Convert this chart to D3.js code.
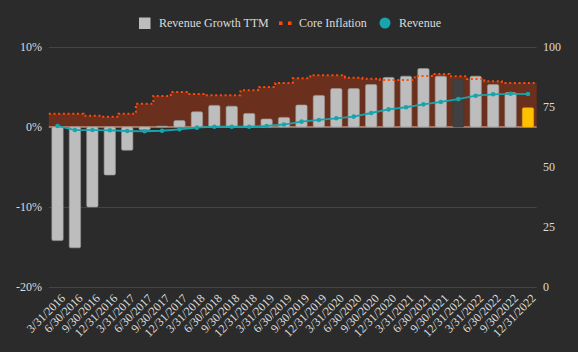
<!DOCTYPE html>
<html>
<head>
<meta charset="utf-8">
<script src="https://cdn.jsdelivr.net/npm/d3@7"></script>
<style>
  html, body { margin: 0; padding: 0; background: #2b2b2b; }
  svg text { font-family: "Liberation Serif", "DejaVu Serif", serif; fill: #dcdcdc; }
</style>
</head>
<body>
<script>
// quarters (x axis)
var quarters = ['3/31/2016', '6/30/2016', '9/30/2016', '12/31/2016',
    '3/31/2017', '6/30/2017', '9/30/2017', '12/31/2017',
    '3/31/2018', '6/30/2018', '9/30/2018', '12/31/2018',
    '3/31/2019', '6/30/2019', '9/30/2019', '12/31/2019',
    '3/31/2020', '6/30/2020', '9/30/2020', '12/31/2020',
    '3/31/2021', '6/30/2021', '9/30/2021', '12/31/2021',
    '3/31/2022', '6/30/2022', '9/30/2022', '12/31/2022'];

// revenue growth TTM, percent (bars, left axis)
var revenueGrowth = [-14.2, -15.1, -10.0, -6.0, -2.9, -0.35, 0.1, 0.8,
    1.9, 2.7, 2.6, 1.7, 1.0, 1.2, 2.75, 3.95,
    4.8, 4.8, 5.3, 6.2, 6.35, 7.3, 6.35, 5.9,
    6.35, 5.3, 4.3, 2.4];

// core inflation, percent (stepped area, left axis)
var coreInflation = [1.66, 1.66, 1.41, 1.29, 1.66, 2.91, 3.88, 4.38,
    4.13, 3.96, 3.96, 4.59, 5.0, 5.5, 6.08, 6.46,
    6.46, 6.16, 6.04, 5.88, 5.88, 6.38, 6.63, 6.33,
    6.0, 5.71, 5.5, 5.5];

// revenue (line, right axis)
var revenue = [67.1, 65.4, 65.4, 65.3, 65.0, 64.9, 65.1, 65.7,
    66.4, 66.8, 66.8, 66.8, 67.1, 67.7, 68.9, 69.6,
    70.3, 71.0, 72.5, 74.0, 74.9, 76.1, 77.1, 78.3,
    79.7, 80.3, 80.5, 80.4];

var leftTicks = [0.10, 0, -0.10, -0.20];
var rightTicks = [100, 75, 50, 25, 0];

(function () {
    var W = 578, H = 352;
    var plotL = 48.8, plotR = 536.7, plotT = 47, plotB = 287;
    var fs = '12px';

    var svg = d3.select('body').append('svg').attr('width', W).attr('height', H);
    svg.append('rect').attr('width', W).attr('height', H).attr('fill', '#2b2b2b');

    var x = d3.scaleBand().domain(quarters).range([plotL, plotR]).paddingInner(0.35).paddingOuter(0.175);
    var y = d3.scaleLinear().domain([-20, 10]).range([plotB, plotT]);
    var y2 = d3.scaleLinear().domain([0, 100]).range([plotB, plotT]);
    var cx = function(q) { return x(q) + x.bandwidth() / 2; };
    // plain hyphen for negatives, like the original
    var pct = function(d) { return d3.format('.0%')(d).replace('\u2212', '-'); };

    // grid lines
    svg.append('g').selectAll('line').data(leftTicks.filter(function(d) { return d !== 0; })).enter().append('line')
        .attr('x1', plotL).attr('x2', plotR)
        .attr('y1', function(d) { return Math.round(y(d * 100)) + 0.5; })
        .attr('y2', function(d) { return Math.round(y(d * 100)) + 0.5; })
        .attr('stroke', '#454545')
        .attr('stroke-width', 1);

    // core inflation stepped area, padded to the plot edges
    var inflPts = [[plotL, coreInflation[0]]]
        .concat(quarters.map(function(q, i) { return [cx(q), coreInflation[i]]; }))
        .concat([[plotR, coreInflation[coreInflation.length - 1]]]);

    svg.append('path').datum(inflPts)
        .attr('fill', '#6b301d')
        .attr('d', d3.area().curve(d3.curveStep)
            .x(function(d) { return d[0]; })
            .y0(y(0)).y1(function(d) { return y(d[1]); }));

    svg.append('line').attr('x1', plotL).attr('x2', plotR)
        .attr('y1', y(0)).attr('y2', y(0))
        .attr('stroke', '#e4c4b4').attr('stroke-width', 1.2);

    // bars
    svg.append('g').selectAll('rect').data(revenueGrowth).enter().append('rect')
        .attr('x', function(d, i) { return x(quarters[i]); })
        .attr('width', x.bandwidth())
        .attr('y', function(d) { return y(Math.max(0, d)); })
        .attr('height', function(d) { return Math.abs(y(d) - y(0)); })
        .attr('rx', 1.5)
        .attr('fill', function(d, i) {
            if (quarters[i] == '12/31/2021') return '#404040';
            if (quarters[i] == '12/31/2022') return '#ffc000';
            return '#bdbdbd';
        })
        .attr('stroke', function(d, i) {
            if (quarters[i] == '12/31/2021') return '#3a3a3a';
            if (quarters[i] == '12/31/2022') return '#e0a800';
            return '#9a9a9a';
        })
        .attr('stroke-width', 0.6);

    // core inflation dotted line
    svg.append('path').datum(inflPts)
        .attr('fill', 'none')
        .attr('stroke', '#ff4a0a').attr('stroke-width', 2)
        .attr('stroke-dasharray', '2,2.7')
        .attr('d', d3.line().curve(d3.curveStep)
            .x(function(d) { return d[0]; })
            .y(function(d) { return y(d[1]); }));

    // revenue line
    svg.append('path').datum(revenue)
        .attr('fill', 'none')
        .attr('stroke', '#17a5ad').attr('stroke-width', 1.8)
        .attr('d', d3.line()
            .x(function(d, i) { return cx(quarters[i]); })
            .y(function(d) { return y2(d); }));

    svg.append('g').selectAll('circle').data(revenue).enter().append('circle')
        .attr('cx', function(d, i) { return cx(quarters[i]); })
        .attr('cy', function(d) { return y2(d); })
        .attr('r', 2.3)
        .attr('fill', '#17a5ad');

    // left axis labels
    svg.append('g').selectAll('text').data(leftTicks).enter().append('text')
        .attr('x', 42).attr('y', function(d) { return y(d * 100); })
        .attr('dy', '0.35em').attr('text-anchor', 'end')
        .style('font-size', fs)
        .text(pct);

    // right axis labels
    svg.append('g').selectAll('text').data(rightTicks).enter().append('text')
        .attr('x', 543).attr('y', function(d) { return y2(d); })
        .attr('dy', '0.35em').attr('text-anchor', 'start')
        .style('font-size', fs)
        .text(function(d) { return d; });

    // x labels
    svg.append('g').selectAll('text').data(quarters).enter().append('text')
        .attr('transform', function(q) { return 'translate(' + (cx(q) + 5.5) + ',' + (plotB + 9) + ') rotate(-45)'; })
        .attr('text-anchor', 'end').attr('dy', '0.35em')
        .style('font-size', fs)
        .text(function(q) { return q; });

    // legend
    var lg = svg.append('g');
    lg.append('rect').attr('x', 139).attr('y', 17.5).attr('width', 11.5).attr('height', 11.5).attr('fill', '#bdbdbd');
    lg.append('text').attr('x', 159).attr('y', 27).style('font-size', fs).text('Revenue Growth TTM');
    lg.append('rect').attr('x', 279).attr('y', 21.5).attr('width', 3.5).attr('height', 3.5).attr('fill', '#ff4a0a');
    lg.append('rect').attr('x', 288).attr('y', 21.5).attr('width', 3.5).attr('height', 3.5).attr('fill', '#ff4a0a');
    lg.append('text').attr('x', 299).attr('y', 27).style('font-size', fs).text('Core Inflation');
    lg.append('circle').attr('cx', 385).attr('cy', 23).attr('r', 5.5).attr('fill', '#17a5ad');
    lg.append('text').attr('x', 399).attr('y', 27).style('font-size', fs).text('Revenue');
})();
</script>
</body>
</html>
